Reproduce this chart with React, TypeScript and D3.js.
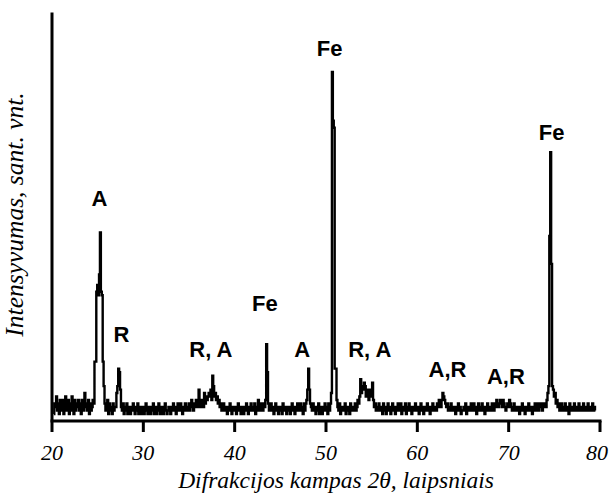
import React from 'react';
import * as d3 from 'd3';

// Diffraction scan: intensity (arb. units) sampled every 0.1° of 2θ, starting at 20.2°
const scanStart = 20.2;
const scanStep = 0.1;
const intensity: number[] = [
  2, 5, 4, 7, 3, 5, 2, 6, // 20.2–20.9
  4, 3, 6, 2, 5, 7, 3, 4, 6, 2, // 21
  5, 3, 7, 4, 2, 6, 3, 5, 4, 6, // 22
  3, 5, 2, 6, 4, 3, 8, 4, 5, 3, // 23
  6, 2, 5, 3, 4, 6, 5, 17, 17, 37, // 24
  39, 36, 42, 54, 37, 36, 17, 10, 5, 3, // 25
  4, 6, 2, 5, 3, 4, 2, 5, 3, 4, // 26
  4, 8, 10, 15, 14, 9, 4, 3, 5, 2, // 27
  4, 3, 5, 2, 4, 3, 2, 4, 3, 5, // 28
  3, 2, 4, 3, 5, 2, 3, 4, 2, 3, // 29
  4, 2, 3, 5, 3, 2, 4, 3, 2, 4, // 30
  3, 5, 2, 3, 4, 2, 3, 5, 3, 2, // 31
  4, 3, 2, 4, 5, 3, 2, 3, 4, 3, // 32
  2, 4, 3, 5, 3, 4, 2, 3, 5, 4, // 33
  3, 5, 4, 2, 4, 3, 5, 4, 3, 4, // 34
  5, 3, 4, 6, 4, 3, 5, 4, 6, 5, // 35
  4, 9, 5, 4, 6, 5, 4, 8, 5, 7, // 36
  6, 7, 8, 7, 9, 6, 13, 10, 7, 8, // 37
  6, 7, 5, 6, 4, 5, 3, 4, 5, 3, // 38
  4, 3, 2, 4, 3, 5, 4, 2, 3, 4, // 39
  3, 4, 2, 3, 5, 3, 4, 2, 4, 3, // 40
  2, 4, 3, 5, 3, 2, 4, 3, 5, 3, // 41
  4, 3, 5, 2, 4, 3, 6, 4, 3, 5, // 42
  4, 3, 5, 4, 6, 22, 14, 5, 3, 4, // 43
  5, 3, 4, 2, 3, 5, 3, 4, 2, 4, // 44
  3, 4, 2, 5, 3, 4, 3, 2, 4, 3, // 45
  4, 2, 3, 5, 3, 4, 2, 3, 4, 5, // 46
  3, 4, 5, 3, 4, 2, 5, 3, 5, 6, // 47
  9, 15, 9, 5, 4, 3, 5, 4, 3, 2, // 48
  4, 3, 5, 2, 4, 3, 2, 4, 3, 5, // 49
  3, 4, 2, 5, 3, 5, 8, 100, 86, 84, // 50
  15, 15, 6, 4, 3, 5, 2, 4, 3, 4, // 51
  3, 5, 2, 4, 3, 4, 2, 5, 3, 4, // 52
  4, 3, 5, 3, 4, 6, 5, 7, 12, 8, // 53
  10, 9, 11, 10, 7, 9, 8, 6, 9, 7, // 54
  8, 11, 6, 4, 5, 3, 4, 3, 5, 4, // 55
  3, 4, 2, 5, 3, 4, 2, 3, 5, 3, // 56
  4, 2, 3, 5, 4, 3, 2, 4, 3, 5, // 57
  3, 4, 5, 2, 3, 4, 3, 5, 2, 4, // 58
  3, 5, 4, 3, 2, 4, 3, 4, 5, 3, // 59
  4, 3, 2, 4, 5, 3, 4, 2, 3, 4, // 60
  3, 5, 3, 4, 2, 4, 3, 5, 4, 3, // 61
  4, 3, 5, 4, 6, 5, 4, 6, 8, 7, // 62
  6, 5, 4, 5, 3, 4, 3, 5, 4, 3, // 63
  4, 3, 2, 4, 3, 5, 3, 4, 2, 3, // 64
  3, 4, 3, 5, 2, 4, 3, 4, 3, 5, // 65
  4, 3, 5, 3, 4, 2, 3, 5, 3, 4, // 66
  3, 5, 4, 3, 2, 4, 3, 5, 4, 3, // 67
  4, 3, 5, 4, 3, 5, 4, 6, 5, 4, // 68
  5, 6, 5, 4, 6, 5, 4, 3, 4, 5, // 69
  4, 6, 5, 4, 3, 4, 5, 3, 4, 3, // 70
  3, 4, 2, 4, 3, 5, 3, 4, 2, 3, // 71
  4, 3, 5, 3, 4, 3, 2, 4, 3, 5, // 72
  3, 4, 5, 3, 4, 5, 4, 3, 5, 4, // 73
  5, 4, 6, 8, 10, 53, 77, 45, 10, 9, // 74
  7, 8, 5, 6, 4, 5, 3, 4, 5, 3, // 75
  4, 3, 5, 4, 3, 4, 2, 5, 3, 4, // 76
  3, 4, 5, 3, 4, 3, 4, 5, 3, 4, // 77
  4, 3, 5, 4, 3, 4, 3, 5, 4, 3, // 78
  4, 3, 5, 3, 4, 3, // 79.0–79.5
];

// x-axis ticks (degrees 2θ)
const xTicks = [20, 30, 40, 50, 60, 70, 80];

// Phase labels: text, 2θ position of the label centre, label baseline intensity
const phaseLabels = ['A', 'R', 'R, A', 'Fe', 'A', 'Fe', 'R, A', 'A,R', 'A,R', 'Fe'];
const phaseLabelAngle = [25.2, 27.6, 37.4, 43.3, 47.4, 50.4, 54.8, 63.3, 69.7, 74.7];
const phaseLabelLevel = [61.5, 22.5, 18.2, 31.6, 18.2, 104.5, 18.2, 12.6, 10.6, 80.6];

const W = 610;
const H = 503;
const left = 52;
const right = 600;
const bottom = 421;
const top = 12.5;
const yTopValue = 117;

const serifFont = 'Liberation Serif';
const sansFont = 'Liberation Sans';

export default function App() {
  const x = d3.scaleLinear().domain([20, 80]).range([left, right]);
  const y = d3.scaleLinear().domain([0, yTopValue]).range([bottom, top]);

  const points: [number, number][] = intensity.map((v, i) => [scanStart + i * scanStep, v]);
  const line = d3
    .line<[number, number]>()
    .x((d) => x(d[0]))
    .y((d) => y(d[1]))
    .curve(d3.curveStep);

  return (
    <svg
      width={W}
      height={H}
      viewBox={`0 0 ${W} ${H}`}
      style={{ position: 'absolute', left: 0, top: 0, background: '#fff', display: 'block' }}
    >
      <rect x={0} y={0} width={W} height={H} fill="#fff" />

      {/* intensity trace */}
      <path d={line(points) ?? ''} fill="none" stroke="#000" strokeWidth={2.4} />

      {/* y axis (no ticks) */}
      <line x1={x(20)} x2={x(20)} y1={y(0)} y2={y(yTopValue)} stroke="#000" strokeWidth={3} />

      {/* x axis */}
      <line x1={x(20) - 1.5} x2={x(80) + 1.5} y1={y(0)} y2={y(0)} stroke="#000" strokeWidth={3} />
      {xTicks.map((t, i) => (
        <g key={t}>
          <line x1={x(t)} x2={x(t)} y1={y(0)} y2={y(0) + 11} stroke="#000" strokeWidth={3} />
          <text
            x={i === xTicks.length - 1 ? x(t) - 3 : x(t)}
            y={460}
            textAnchor="middle"
            fontFamily={serifFont}
            fontStyle="italic"
            fontSize={22}
            fill="#000"
          >
            {t}
          </text>
        </g>
      ))}

      {/* axis titles */}
      <text
        x={336}
        y={488}
        textAnchor="middle"
        fontFamily={serifFont}
        fontStyle="italic"
        fontSize={23.5}
        fill="#000"
      >
        Difrakcijos kampas 2θ, laipsniais
      </text>
      <text
        transform="translate(23,214.5) rotate(-90)"
        textAnchor="middle"
        fontFamily={serifFont}
        fontStyle="italic"
        fontSize={25.5}
        fill="#000"
      >
        Intensyvumas, sant. vnt.
      </text>

      {/* phase labels */}
      {phaseLabels.map((lab, i) => (
        <text
          key={i}
          x={x(phaseLabelAngle[i])}
          y={y(phaseLabelLevel[i])}
          textAnchor="middle"
          fontFamily={sansFont}
          fontWeight="bold"
          fontSize={22}
          fill="#000"
        >
          {lab}
        </text>
      ))}
    </svg>
  );
}
